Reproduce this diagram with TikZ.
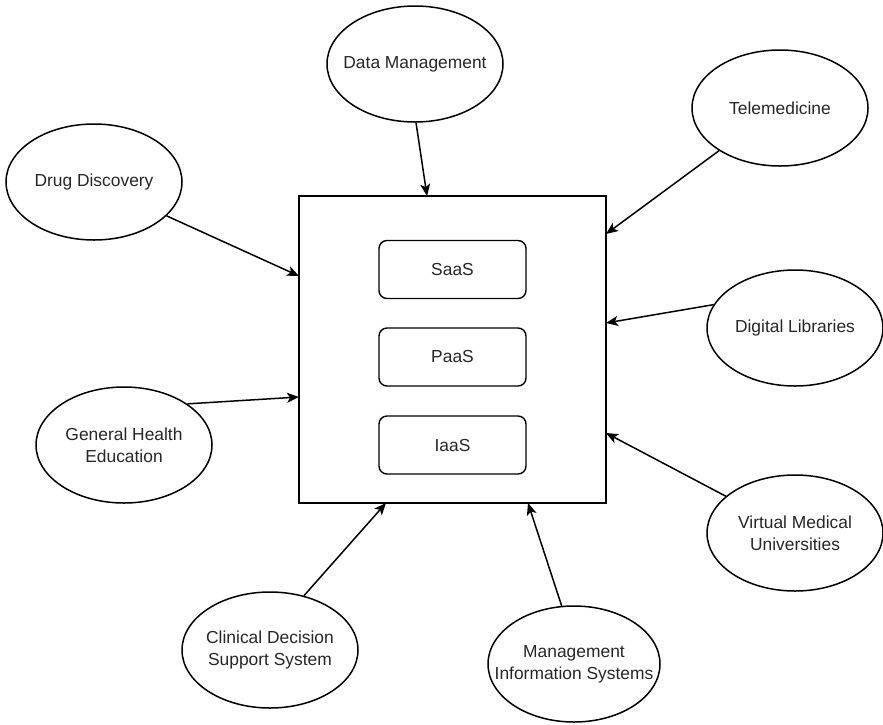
\documentclass[tikz,border=0pt]{standalone}
\usepackage{fontspec}
\setmainfont{Liberation Sans}
\usetikzlibrary{shapes.geometric,arrows.meta}

\tikzset{
  topic/.style={draw, ellipse, line width=1.5pt, inner ysep=0pt, inner xsep=-25pt,
    minimum width=176pt, minimum height=116pt, align=center,
    font=\fontsize{17.4}{22}\selectfont, text=black!85},
  frame/.style={draw, line width=1.6pt, minimum width=307pt, minimum height=307pt, inner sep=0pt},
  layer/.style={draw, line width=1.4pt, rounded corners=8pt, minimum width=147pt,
    minimum height=58pt, inner sep=0pt, font=\fontsize{17.4}{22}\selectfont, text=black!85},
  link/.style={line width=1.5pt, -{Stealth[length=12pt,width=10pt,inset=3pt]}}
}

\begin{document}
\begin{tikzpicture}[x=1pt, y=-1pt]
\useasboundingbox (0,0) rectangle (883,724);

% central cloud platform with its three service layers
\node[frame] (cloud) at (452.5,349.5) {};
\node[layer] (saas) at (452.5,269.5) {SaaS};
\node[layer] (paas) at (452.5,357) {PaaS};
\node[layer] (iaas) at (452.5,445) {IaaS};

% application areas
\node[topic] (dm)  at (415,64)  {Data Management};
\node[topic] (tm)  at (780,108) {Telemedicine};
\node[topic] (dd)  at (94,182)  {Drug Discovery};
\node[topic] (dl)  at (795,328) {Digital Libraries};
\node[topic] (ghe) at (124,445) {General Health\\Education};
\node[topic] (vmu) at (795,533) {Virtual Medical\\Universities};
\node[topic] (cds) at (270,650) {Clinical Decision\\Support System};
\node[topic, minimum width=172pt] (mis) at (574,664) {Management\\Information Systems};

% entry points on the platform border
\coordinate (inDM)  at (427,196);
\coordinate (inTM)  at (606,234);
\coordinate (inDD)  at (299,276);
\coordinate (inDL)  at (606,323);
\coordinate (inGHE) at (299,397);
\coordinate (inVMU) at (606,433);
\coordinate (inCDS) at (386,503);
\coordinate (inMIS) at (528,503);

% connectors
\draw[link] (dm.-89)   -- (inDM);
\draw[link] (tm.215)   -- (inTM);
\draw[link] (dd.335)   -- (inDD);
\draw[link] (dl.164)   -- (inDL);
\draw[link] (ghe.33)   -- (inGHE);
\draw[link] (vmu.152)  -- (inVMU);
\draw[link] (cds.58)   -- (inCDS);
\draw[link] (mis.102)  -- (inMIS);
\end{tikzpicture}
\end{document}
